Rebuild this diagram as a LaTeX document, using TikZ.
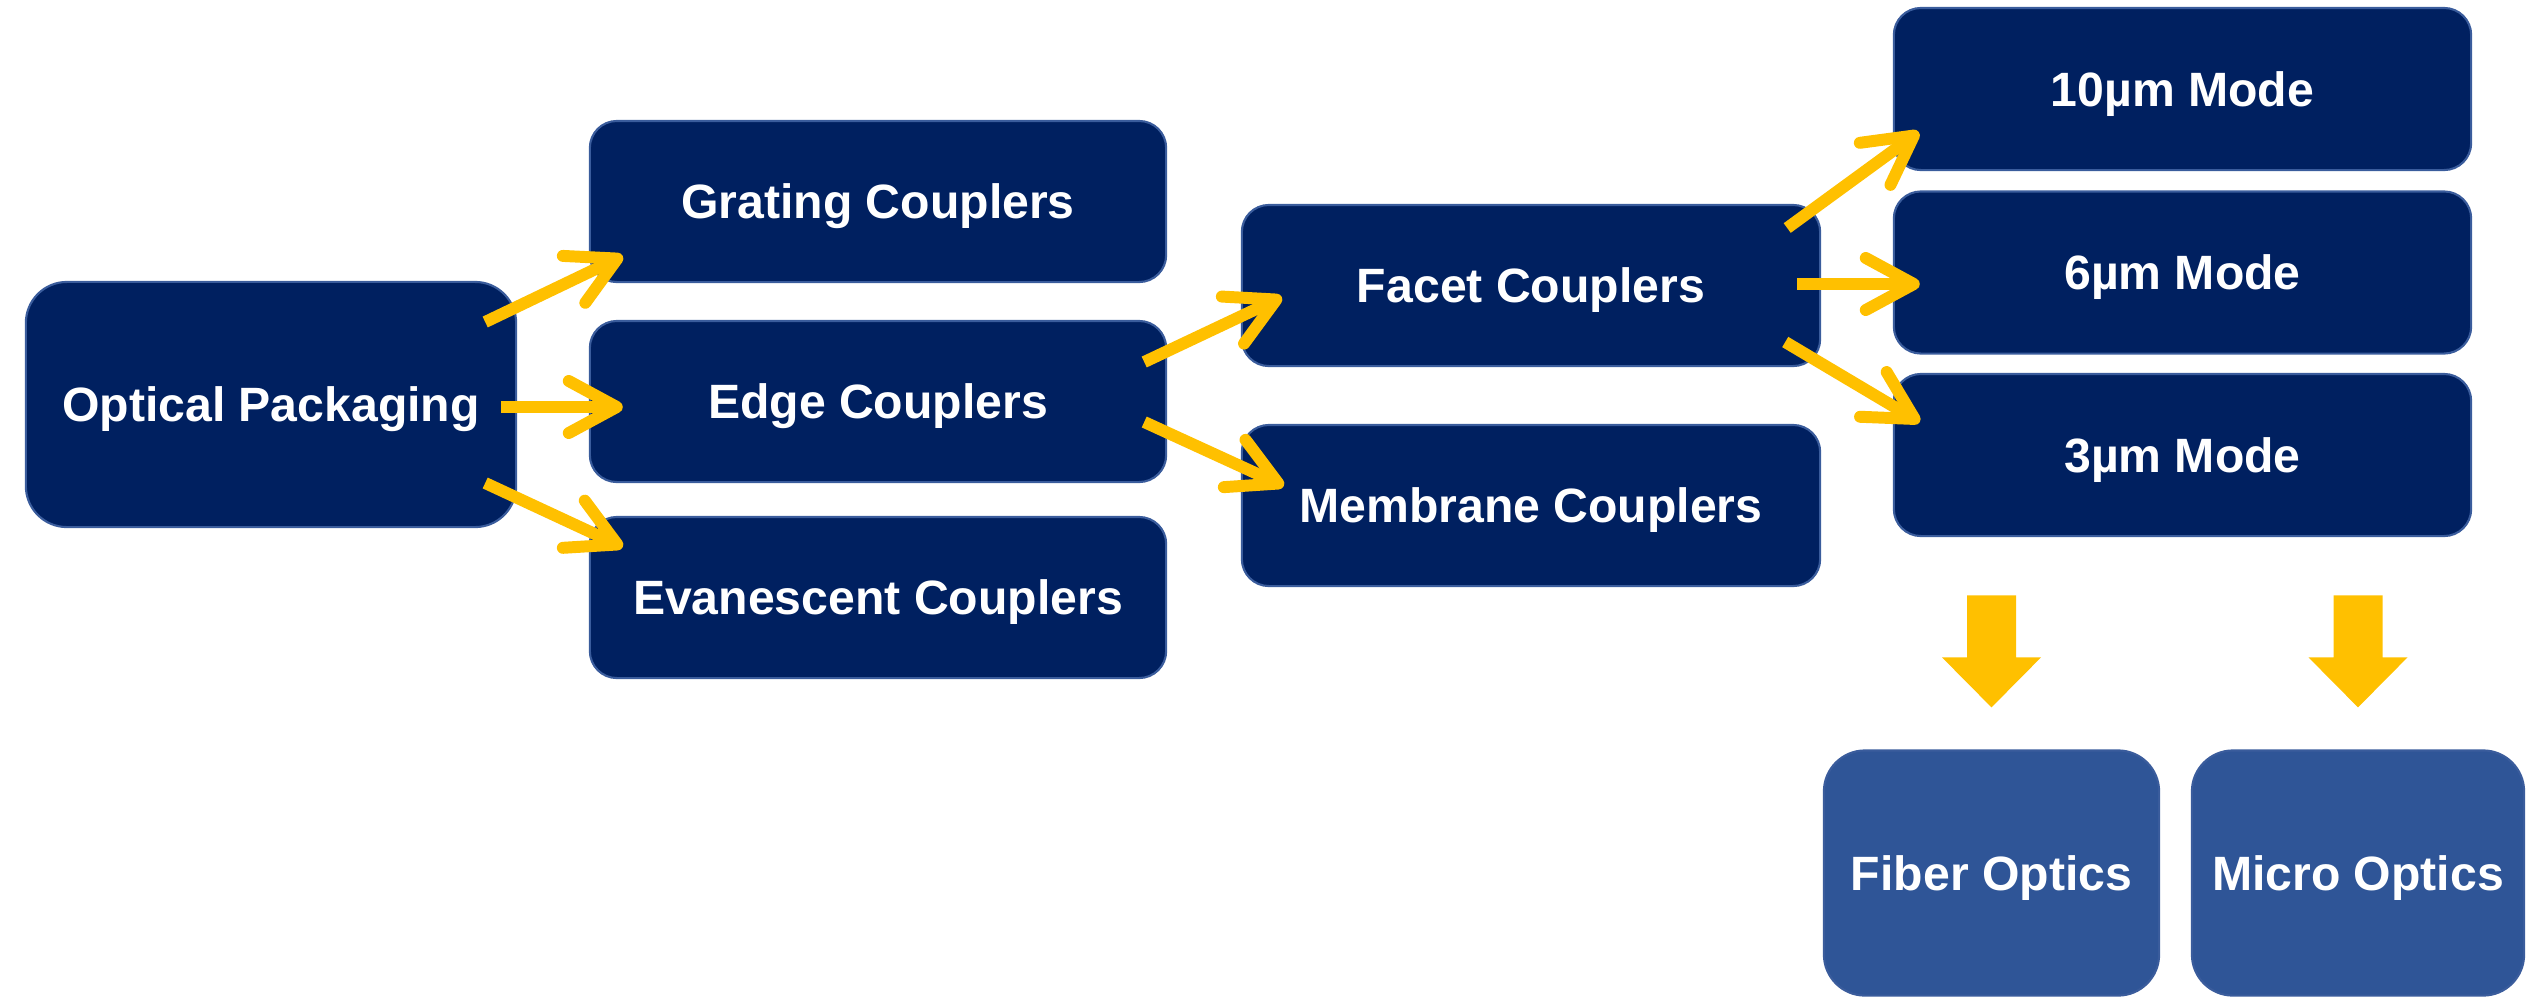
\documentclass[tikz,border=0pt]{standalone}
\usepackage{fontspec}
\setmainfont{Liberation Sans}
\usetikzlibrary{arrows.meta,calc}
\definecolor{navy}{HTML}{002060}
\definecolor{lightnavy}{HTML}{2F5597}
\definecolor{boxedge}{HTML}{3A5C9C}
\definecolor{gold}{HTML}{FFC000}
\tikzset{
  x=0.01cm, y=-0.01cm,
  box/.style={rectangle, rounded corners=0.27cm, fill=navy, draw=boxedge, line width=0.6pt,
    text=white, font=\bfseries\fontsize{13.7}{16}\selectfont, inner sep=0pt, align=center,
    text height=9.8pt, text depth=0pt},
  smallbox/.style={box, minimum width=5.76cm, minimum height=1.61cm},
  bigbox/.style={box, rounded corners=0.41cm},
  lightbox/.style={bigbox, fill=lightnavy},
  link/.style={draw=gold, line width=3.4pt, -{Straight Barb[length=0.48cm, width=0.52cm, round]}},
  blockarrow/.style={fill=gold}
}
\begin{document}
\begin{tikzpicture}
\useasboundingbox (0,0) rectangle (2526,996);
% nodes
\node[bigbox, minimum width=4.9cm, minimum height=2.45cm] (op) at (271,404.5) {Optical Packaging};
\node[smallbox] (grating) at (878,201.5) {Grating Couplers};
\node[smallbox] (edge) at (878,401.5) {Edge Couplers};
\node[smallbox] (evan) at (878,597.5) {Evanescent Couplers};
\node[smallbox, minimum width=5.78cm] (facet) at (1531,285.5) {Facet Couplers};
\node[smallbox, minimum width=5.78cm] (membrane) at (1531,505.5) {Membrane Couplers};
\node[smallbox, minimum width=5.77cm, minimum height=1.62cm] (m10) at (2182.5,89) {10µm Mode};
\node[smallbox, minimum width=5.77cm, minimum height=1.62cm] (m6) at (2182.5,272.5) {6µm Mode};
\node[smallbox, minimum width=5.77cm, minimum height=1.62cm] (m3) at (2182.5,455) {3µm Mode};
\node[lightbox, minimum width=3.35cm, minimum height=2.45cm] (fiber) at (1991.5,873) {Fiber Optics};
\node[lightbox, minimum width=3.32cm, minimum height=2.45cm] (micro) at (2358,873) {Micro Optics};
% connectors
\draw[link] ($(op.east)+(-32,-82.5)$) -- ($(grating.west)+(34,54.5)$);
\draw[link] ($(op.east)+(-16,2.5)$) -- ($(edge.west)+(34,5.5)$);
\draw[link] ($(op.east)+(-32,78.5)$) -- ($(evan.west)+(34,-50.5)$);
\draw[link] ($(edge.east)+(-23,-39.5)$) -- ($(facet.west)+(41,11.5)$);
\draw[link] ($(edge.east)+(-23,20.5)$) -- ($(membrane.west)+(43,-19.5)$);
\draw[link] ($(facet.east)+(-34,-57.5)$) -- ($(m10.west)+(26,43)$);
\draw[link] ($(facet.east)+(-24,-1.5)$) -- ($(m6.west)+(27,11.5)$);
\draw[link] ($(facet.east)+(-36,56.5)$) -- ($(m3.west)+(27,-33)$);
% block arrows
\fill[blockarrow] ($(fiber.north)+(-24.5,-154)$) -- ++(49,0) -- ++(0,62) -- ++(25,0)
  -- ++(-49.5,50) -- ++(-49.5,-50) -- ++(25,0) -- cycle;
\fill[blockarrow] ($(micro.north)+(-24.5,-154)$) -- ++(49,0) -- ++(0,62) -- ++(25,0)
  -- ++(-49.5,50) -- ++(-49.5,-50) -- ++(25,0) -- cycle;
\end{tikzpicture}
\end{document}
